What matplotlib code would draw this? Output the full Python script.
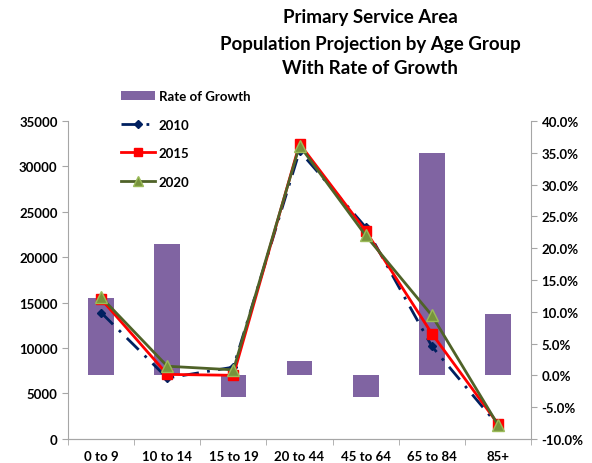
import numpy as np
import matplotlib
matplotlib.use('Agg')
from matplotlib import pyplot as plt
from matplotlib.ticker import FuncFormatter

plt.rcParams['font.family'] = ['Lato', 'DejaVu Sans']
plt.rcParams['font.weight'] = 'bold'

groups = ['0 to 9', '10 to 14', '15 to 19', '20 to 44', '45 to 64', '65 to 84', '85+']
pop_2010 = [13900, 6700, 7900, 31700, 23300, 10200, 1500]
pop_2015 = [15400, 7100, 7000, 32500, 22900, 11600, 1650]
pop_2020 = [15600, 8000, 7600, 32300, 22400, 13600, 1550]
growth = [12.2, 20.6, -3.4, 2.2, -3.4, 34.9, 9.7]  # percent

fontsz = 9.5
grey = '#A6A6A6'

fig = plt.figure(figsize=(5.92, 4.64), dpi=100)
ax = fig.add_axes([0.115, 0.052, 0.782, 0.685])
ax2 = ax.twinx()

idx = np.arange(len(groups))

# bars on the secondary axis, behind the lines
bars = ax2.bar(idx, growth, 0.39, color='#8064A2', label='Rate of Growth', zorder=1)
ax2.set_ylim(-10, 40)
ax2.set_yticks(np.arange(-10, 41, 5))
ax2.yaxis.set_major_formatter(FuncFormatter(lambda v, p: '%.1f%%' % v))

ax.set_zorder(ax2.get_zorder() + 1)
ax.patch.set_visible(False)

l1, = ax.plot(idx, pop_2010, color='#002060', ls=(0, (6, 3, 1, 3)), lw=2, marker='D', ms=4.5,
              label='2010')
l2, = ax.plot(idx, pop_2015, color='#FF0000', lw=2, marker='s', ms=7, label='2015')
l3, = ax.plot(idx, pop_2020, color='#4F6228', lw=2, marker='^', ms=8,
              mfc='#77933C', mec='#9BBB59', label='2020')

ax.set_ylim(0, 35000)
ax.set_yticks(np.arange(0, 35001, 5000))
ax.set_xlim(-0.5, len(groups) - 0.5)
ax.set_xticks(idx)
ax.set_xticklabels(groups)
ax.set_xticks(np.arange(-0.5, len(groups), 1), minor=True)
ax.tick_params(axis='x', which='major', length=0, labelsize=fontsz, pad=8)
ax.tick_params(axis='x', which='minor', length=4, color=grey)
ax.tick_params(axis='y', length=4, color=grey, labelsize=fontsz)
ax2.tick_params(axis='y', length=4, color=grey, labelsize=fontsz)

for a in (ax, ax2):
    a.spines['top'].set_visible(False)
    for s in ('left', 'right', 'bottom'):
        a.spines[s].set_color(grey)
ax.spines['right'].set_visible(False)
ax2.spines['left'].set_visible(False)

fig.legend(handles=[bars, l1, l2, l3], loc='upper left', bbox_to_anchor=(0.195, 0.815),
           frameon=False, fontsize=fontsz, labelspacing=1.25, handlelength=2.6,
           handletextpad=0.3, borderaxespad=0, markerscale=0.85)

fig.text(0.625, 0.963, 'Primary Service Area', ha='center', va='center', fontsize=13.5, weight='bold')
fig.text(0.625, 0.905, 'Population Projection by Age Group', ha='center', va='center', fontsize=13.5, weight='bold')
fig.text(0.625, 0.852, 'With Rate of Growth', ha='center', va='center', fontsize=13.5, weight='bold')

plt.savefig('out.png', dpi=100)
